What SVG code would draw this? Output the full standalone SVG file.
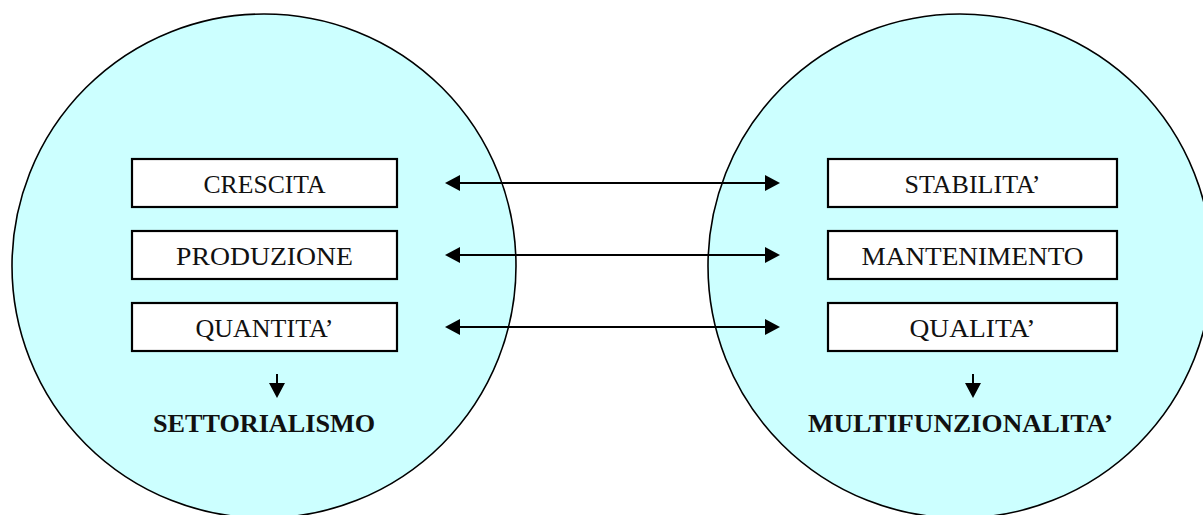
<svg xmlns="http://www.w3.org/2000/svg" width="1203" height="515" viewBox="0 0 1203 515">
  <style>
    .circle { fill: #CCFFFF; stroke: #000; stroke-width: 1.6; }
    .box { fill: #FFFFFF; stroke: #000; stroke-width: 2.2; }
    .lbl { font-family: "Liberation Serif", "Times New Roman", serif; font-size: 25px; fill: #111; text-anchor: middle; }
    .big { font-family: "Liberation Serif", "Times New Roman", serif; font-size: 25px; font-weight: bold; fill: #111; text-anchor: middle; }
    .conn { stroke: #000; stroke-width: 2; fill: none; }
  </style>
  <defs>
    <marker id="ah" markerUnits="userSpaceOnUse" markerWidth="16" markerHeight="16" viewBox="0 0 15 16" refX="5" refY="8" orient="auto-start-reverse">
      <path d="M0,0 L15,8 L0,16 z" fill="#000"/>
    </marker>
  </defs>
  <rect width="1203" height="515" fill="#FFFFFF"/>
  <g id="circle-left"><circle class="circle" cx="264" cy="266" r="252"/></g>
  <g id="circle-right"><circle class="circle" cx="960" cy="266" r="252"/></g>
  <g id="connectors">
    <line class="conn" x1="455" y1="183" x2="770" y2="183" marker-start="url(#ah)" marker-end="url(#ah)"/>
    <line class="conn" x1="455" y1="255" x2="770" y2="255" marker-start="url(#ah)" marker-end="url(#ah)"/>
    <line class="conn" x1="455" y1="327" x2="770" y2="327" marker-start="url(#ah)" marker-end="url(#ah)"/>
    <line class="conn" x1="277" y1="374" x2="277" y2="388" marker-end="url(#ah)"/>
    <line class="conn" x1="973" y1="374" x2="973" y2="388" marker-end="url(#ah)"/>
  </g>
  <g id="crescita"><rect class="box" x="132" y="159" width="265" height="48"/><text class="lbl" x="264.5" y="192.5" textLength="122" lengthAdjust="spacingAndGlyphs">CRESCITA</text></g>
  <g id="produzione"><rect class="box" x="132" y="231" width="265" height="48"/><text class="lbl" x="264.5" y="264.5" textLength="177" lengthAdjust="spacingAndGlyphs">PRODUZIONE</text></g>
  <g id="quantita"><rect class="box" x="132" y="303" width="265" height="48"/><text class="lbl" x="264.5" y="336.5" textLength="138" lengthAdjust="spacingAndGlyphs">QUANTITA’</text></g>
  <g id="stabilita"><rect class="box" x="828" y="159" width="289" height="48"/><text class="lbl" x="972.5" y="192.5" textLength="136" lengthAdjust="spacingAndGlyphs">STABILITA’</text></g>
  <g id="mantenimento"><rect class="box" x="828" y="231" width="289" height="48"/><text class="lbl" x="972.5" y="264.5" textLength="222" lengthAdjust="spacingAndGlyphs">MANTENIMENTO</text></g>
  <g id="qualita"><rect class="box" x="828" y="303" width="289" height="48"/><text class="lbl" x="972.5" y="336.5" textLength="126" lengthAdjust="spacingAndGlyphs">QUALITA’</text></g>
  <g id="settorialismo"><text class="big" x="264" y="432" textLength="222" lengthAdjust="spacingAndGlyphs">SETTORIALISMO</text></g>
  <g id="multifunzionalita"><text class="big" x="960.5" y="432" textLength="305" lengthAdjust="spacingAndGlyphs">MULTIFUNZIONALITA’</text></g>
</svg>
